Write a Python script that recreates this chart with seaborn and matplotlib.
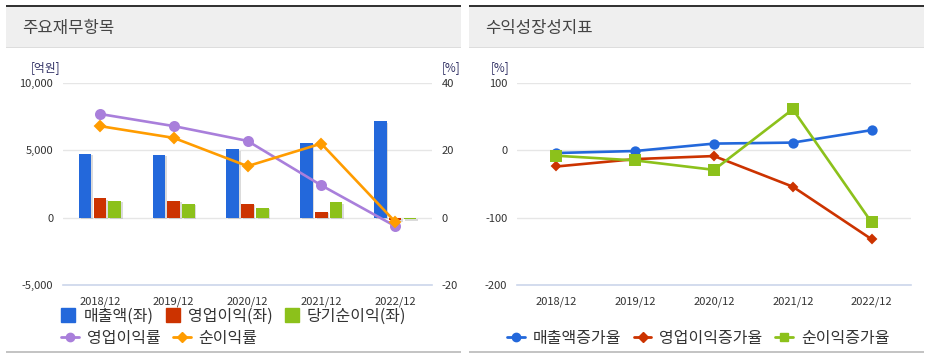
import numpy as np
import pandas as pd
import matplotlib
matplotlib.use('Agg')
import matplotlib.pyplot as plt
import matplotlib.patheffects as pe
from matplotlib.patches import Rectangle
from matplotlib.lines import Line2D
from matplotlib.ticker import FuncFormatter, FixedLocator
import seaborn as sns

# data
years = ['2018/12', '2019/12', '2020/12', '2021/12', '2022/12']
sales = [4750, 4680, 5070, 5570, 7190]
op_profit = [1470, 1250, 1045, 450, -200]
net_profit = [1250, 1050, 750, 1140, -100]
op_margin = [30.8, 27.2, 22.8, 9.6, -2.5]
net_margin = [27.2, 23.7, 15.3, 22.0, -1.2]

sales_growth = [-4, -1, 10, 11.5, 30]
op_growth = [-24, -13, -8.5, -54, -132]
net_growth = [-8, -15, -29, 61, -107]

bar_names = ['매출액(좌)', '영업이익(좌)', '당기순이익(좌)']
bar_colors = ['#2368db', '#cc3300', '#8cc11b']
rate_names = ['영업이익률', '순이익률']
rate_colors = ['#a97fdb', '#ff9c00']
growth_names = ['매출액증가율', '영업이익증가율', '순이익증가율']
growth_colors = ['#2368db', '#cc3300', '#8cc11b']

sns.set_style('white')
plt.rcParams['font.family'] = ['Noto Sans CJK KR', 'DejaVu Sans']
plt.rcParams['axes.unicode_minus'] = False

W, H = 931, 361
fig = plt.figure(figsize=(W / 100, H / 100), dpi=100)
TXT = '#333333'
AXC = '#ccd6eb'
GRID = '#e6e6e6'


def px_axes(x0, y0, x1, y1):
    return fig.add_axes([x0 / W, 1 - y1 / H, (x1 - x0) / W, (y1 - y0) / H])


def header(x0, x1, title):
    fig.add_artist(Rectangle((x0 / W, 1 - 47 / H), (x1 - x0) / W, 40 / H,
                             transform=fig.transFigure, facecolor='#efefef', edgecolor='none'))
    fig.add_artist(Rectangle((x0 / W, 1 - 7 / H), (x1 - x0) / W, 2 / H,
                             transform=fig.transFigure, facecolor='#333333', edgecolor='none'))
    fig.add_artist(Rectangle((x0 / W, 1 - 48 / H), (x1 - x0) / W, 1 / H,
                             transform=fig.transFigure, facecolor='#dddddd', edgecolor='none'))
    fig.add_artist(Rectangle((x0 / W, 1 - 353 / H), (x1 - x0) / W, 2 / H,
                             transform=fig.transFigure, facecolor='#c4c4c4', edgecolor='none'))
    fig.text((x0 + 16) / W, 1 - 28 / H, title, fontsize=12, color='#444444', va='center', ha='left')


def style_x(ax):
    for s in ['top', 'left', 'right']:
        ax.spines[s].set_visible(False)
    ax.spines['bottom'].set_color(AXC)
    ax.spines['bottom'].set_linewidth(1.2)
    ax.set_xlim(-0.5, 4.5)
    ax.set_xticks(range(len(years)))
    ax.set_xticklabels(years)
    ax.xaxis.set_minor_locator(FixedLocator(np.arange(-0.5, 5, 1)))
    ax.tick_params(axis='x', which='major', length=0, pad=8, labelsize=8, labelcolor=TXT)
    ax.tick_params(axis='x', which='minor', length=5, width=1.2, color=AXC, direction='out')
    ax.tick_params(axis='y', length=0, labelsize=8, labelcolor=TXT, pad=7)
    ax.yaxis.grid(True, color=GRID, lw=1)
    ax.set_axisbelow(True)
    ax.set_xlabel('')
    ax.set_ylabel('')


# ---------------- left panel ----------------
header(6, 461, '주요재무항목')
ax = px_axes(63, 83, 432, 285)
bar_df = pd.DataFrame({
    'year': years * 3,
    'item': sum([[n] * len(years) for n in bar_names], []),
    'value': sales + op_profit + net_profit,
})
sns.barplot(data=bar_df, x='year', y='value', hue='item', palette=bar_colors,
            width=0.6, gap=0.15, legend=False, ax=ax, saturation=1, linewidth=0)
for p in ax.patches:
    p.set_path_effects([pe.SimplePatchShadow(offset=(1.2, -1.2), shadow_rgbFace='#999999', alpha=0.35),
                        pe.Normal()])
ax.set_ylim(-5000, 10000)
ax.set_yticks([-5000, 0, 5000, 10000])
ax.yaxis.set_major_formatter(FuncFormatter(lambda v, _: f'{v:,.0f}'))
style_x(ax)

ax2 = ax.twinx()
for vals, c, m, ms in zip([op_margin, net_margin], rate_colors, ['o', 'D'], [6.5, 5]):
    sns.pointplot(x=years, y=vals, color=c, markers=m, linestyles='-', errorbar=None,
                  markersize=ms, linewidth=1.9, ax=ax2)
ax2.set_ylim(-20, 40)
ax2.set_yticks([-20, 0, 20, 40])
ax2.set_xlim(-0.5, 4.5)
for s in ax2.spines.values():
    s.set_visible(False)
ax2.tick_params(axis='y', length=0, labelsize=8, labelcolor=TXT, pad=7)
ax2.set_ylabel('')
ax2.set_xlabel('')
fig.text(60 / W, 1 - 68 / H, '[억원]', fontsize=8.5, color='#333366', ha='right', va='center')
fig.text(442 / W, 1 - 68 / H, '[%]', fontsize=8.5, color='#333366', ha='left', va='center')

sq = dict(marker='s', linestyle='none', markersize=10.5)
h1 = [Line2D([], [], color=c, **sq) for c in bar_colors]
fig.legend(h1, bar_names, loc='center left', bbox_to_anchor=(61 / W, 1 - 316 / H),
           frameon=False, fontsize=11.5, ncol=3, handlelength=0.9, handletextpad=0.5,
           columnspacing=0.75, borderpad=0, borderaxespad=0, labelcolor=TXT)
h2 = [Line2D([], [], color=rate_colors[0], marker='o', markersize=6, lw=2),
      Line2D([], [], color=rate_colors[1], marker='D', markersize=5, lw=2)]
fig.legend(h2, rate_names, loc='center left', bbox_to_anchor=(61 / W, 1 - 338 / H),
           frameon=False, fontsize=11.5, ncol=2, handlelength=1.1, handletextpad=0.5,
           columnspacing=0.8, borderpad=0, borderaxespad=0, labelcolor=TXT)

# ---------------- right panel ----------------
header(469, 924, '수익성장성지표')
axr = px_axes(517, 83, 911, 285)
for vals, c, m, ms in zip([sales_growth, op_growth, net_growth], growth_colors,
                          ['o', 'D', 's'], [6, 4.5, 6.5]):
    sns.pointplot(x=years, y=vals, color=c, markers=m, linestyles='-', errorbar=None,
                  markersize=ms, linewidth=1.9, ax=axr)
axr.set_ylim(-200, 100)
axr.set_yticks([-200, -100, 0, 100])
style_x(axr)
fig.text(510 / W, 1 - 68 / H, '[%]', fontsize=8.5, color='#333366', ha='right', va='center')

h3 = [Line2D([], [], color=c, marker=m, markersize=ms, lw=2)
      for c, m, ms in zip(growth_colors, ['o', 'D', 's'], [6, 5, 6])]
fig.legend(h3, growth_names, loc='center left', bbox_to_anchor=(507 / W, 1 - 338 / H),
           frameon=False, fontsize=11.5, ncol=3, handlelength=1.1, handletextpad=0.5,
           columnspacing=0.8, borderpad=0, borderaxespad=0, labelcolor=TXT)

fig.savefig('out.png', dpi=100, facecolor='white')
